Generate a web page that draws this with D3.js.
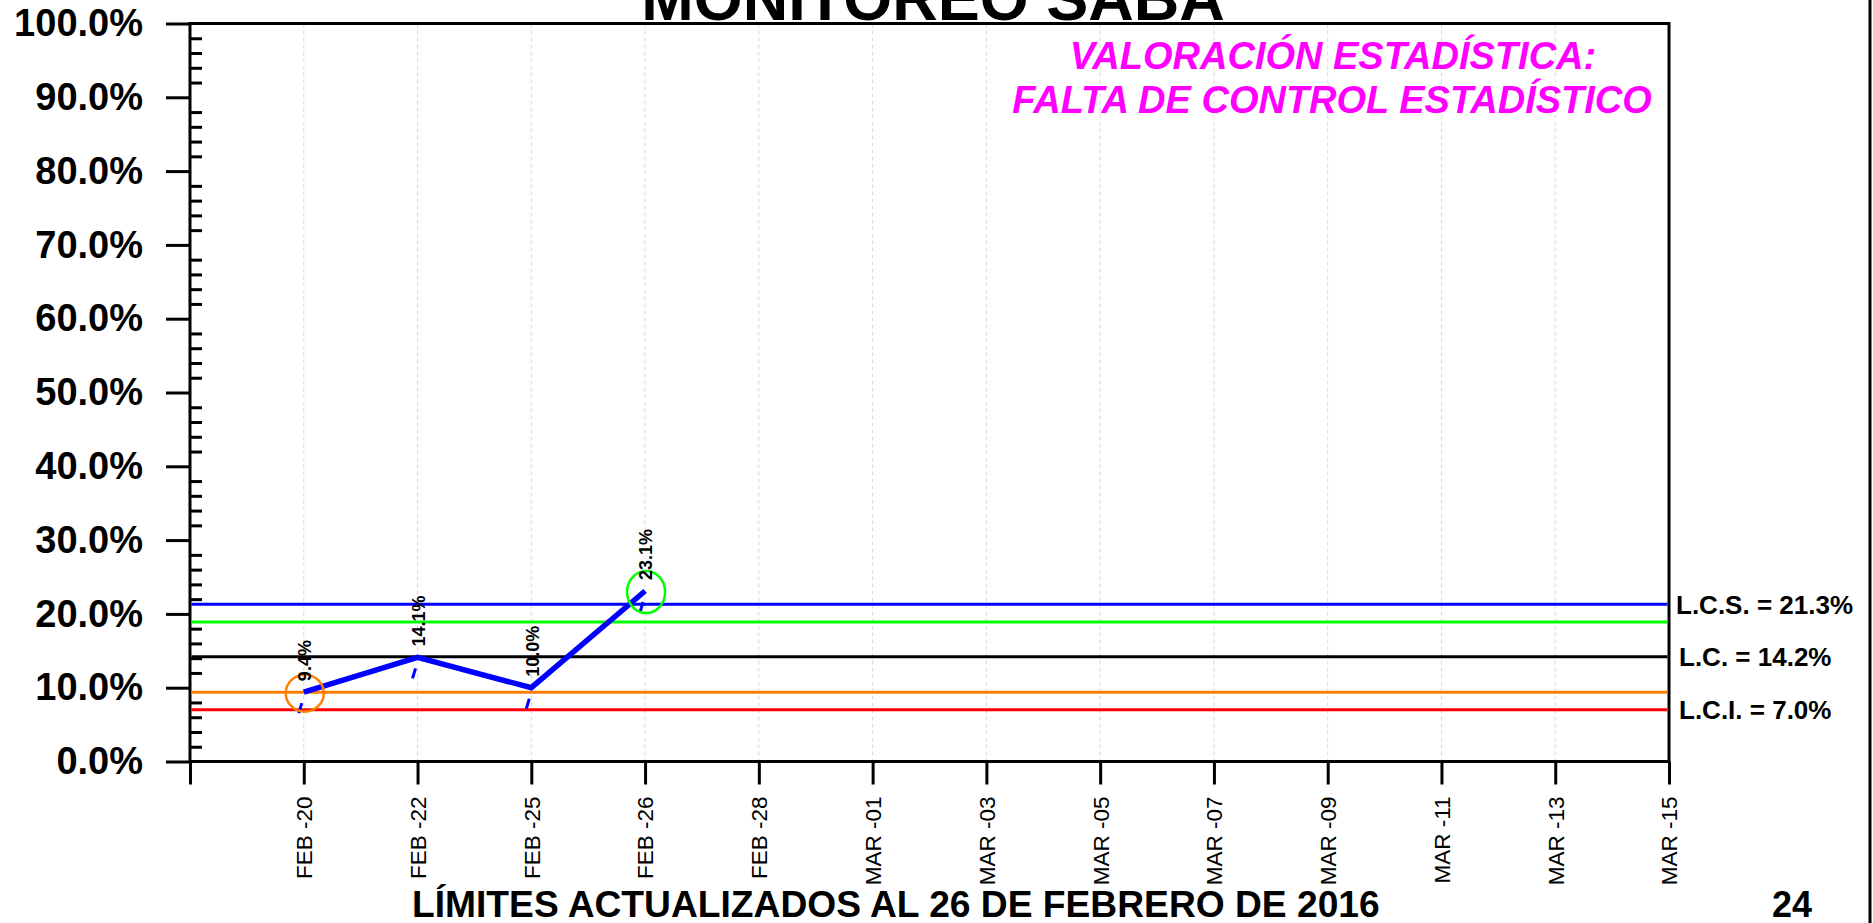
<!DOCTYPE html>
<html>
<head>
<meta charset="utf-8">
<script src="https://cdn.jsdelivr.net/npm/d3@7"></script>
<style>
  body { margin: 0; background: #fff; }
  svg { display: block; }
  text { font-family: "Liberation Sans", Arial, sans-serif; }
</style>
</head>
<body>
<div id="grafica"></div>
<script>
// fechas del eje x
const categorias = ["FEB -20", "FEB -22", "FEB -25", "FEB -26", "FEB -28", "MAR -01", "MAR -03",
                    "MAR -05", "MAR -07", "MAR -09", "MAR -11", "MAR -13", "MAR -15"];
// valores medidos (%)
const valores = [9.4, 14.1, 10.0, 23.1];
// limites de control (%)
const limiteNombres = ["LCS", "ADV_SUP", "LC", "ADV_INF", "LCI"];
const limiteValores = [21.3, 18.9, 14.2, 9.4, 7.0];
const limiteColores = ["#0000ff", "#00ff00", "#000000", "#ff8000", "#ff0000"];
const limiteEtiquetas = ["L.C.S. = 21.3%", "", "L.C. = 14.2%", "", "L.C.I. = 7.0%"];
// puntos marcados con circulo
const marcas = [{i: 0, color: "#ff8000"}, {i: 3, color: "#00ff00"}];
const ticksY = [0, 10, 20, 30, 40, 50, 60, 70, 80, 90, 100];

var margin = {top: 23.5, left: 190},
    width = 1669 - 190,
    height = 761.5 - 23.5;

var svg = d3.select("#grafica")
            .append("svg")
            .attr("width", 1873)
            .attr("height", 923);

var g = svg.append("g")
           .attr("transform", "translate(" + margin.left + "," + margin.top + ")");

var x = d3.scaleLinear()
          .domain([0, categorias.length])
          .range([0, width]);

var y = d3.scaleLinear()
          .domain([0, 100])
          .range([height, 0]);

// rejilla vertical
g.selectAll(".grid")
  .data(categorias)
  .enter()
  .append("line")
    .attr("x1", function(d, i) { return x(i + 1); })
    .attr("x2", function(d, i) { return x(i + 1); })
    .attr("y1", 0)
    .attr("y2", height)
    .attr("stroke", "#dadada")
    .attr("stroke-width", 1)
    .attr("stroke-dasharray", "4,3");

// eje y
var ejeY = g.append("g")
  .call(d3.axisLeft(y).tickValues(ticksY).tickSize(24).tickSizeOuter(0).tickPadding(23)
          .tickFormat(function(d) { return d.toFixed(1) + "%"; }));
ejeY.select(".domain").remove();
ejeY.selectAll("line").attr("stroke-width", 3);
ejeY.selectAll("text")
  .style("font-size", "38px")
  .style("font-weight", "bold")
  .attr("fill", "#000");

var menores = d3.range(2, 100, 2).filter(function(d) { return d % 10 != 0; });
var ejeYmenor = g.append("g")
  .call(d3.axisRight(y).tickValues(menores).tickSize(12).tickSizeOuter(0).tickFormat(""));
ejeYmenor.select(".domain").remove();
ejeYmenor.selectAll("line").attr("stroke-width", 3);

// eje x
var ejeX = g.append("g")
  .attr("transform", "translate(0," + height + ")")
  .call(d3.axisBottom(x).tickValues(d3.range(0, categorias.length + 1)).tickSize(23).tickSizeOuter(0)
          .tickFormat(function(i) { return i ? categorias[i - 1] : ""; }));
ejeX.select(".domain").remove();
ejeX.selectAll("line").attr("stroke-width", 3);
ejeX.selectAll("text")
  .attr("transform", "translate(0,35)rotate(-90)")
  .attr("x", 0)
  .attr("y", 0)
  .attr("dy", "0.35em")
  .style("text-anchor", "end")
  .style("font-size", "22.5px")
  .attr("fill", "#000");

// marco
g.append("rect")
  .attr("x", 0)
  .attr("y", 0)
  .attr("width", width)
  .attr("height", height)
  .attr("fill", "none")
  .attr("stroke", "#000")
  .attr("stroke-width", 3);

// limites
g.selectAll(".limite")
  .data(limiteValores)
  .enter()
  .append("line")
    .attr("x1", 1.5)
    .attr("x2", width - 1.5)
    .attr("y1", function(d) { return y(d); })
    .attr("y2", function(d) { return y(d); })
    .attr("stroke", function(d, i) { return limiteColores[i]; })
    .attr("stroke-width", 3);

g.selectAll(".limTxt")
  .data(limiteValores)
  .enter()
  .append("text")
    .attr("x", function(d, i) { return width + (i == 0 ? 7 : 10); })
    .attr("y", function(d) { return y(d); })
    .attr("dy", "0.36em")
    .style("font-size", "26px")
    .style("font-weight", "bold")
    .text(function(d, i) { return limiteEtiquetas[i]; });

// serie
var linea = d3.line()
  .x(function(d, i) { return x(i + 1); })
  .y(function(d) { return y(d); });

g.append("path")
  .datum(valores)
  .attr("d", linea)
  .attr("fill", "none")
  .attr("stroke", "#0000ff")
  .attr("stroke-width", 5.5)
  .attr("stroke-linejoin", "miter");

// pequeñas marcas bajo cada punto
g.selectAll(".tic")
  .data(valores)
  .enter()
  .append("line")
    .attr("x1", function(d, i) { return x(i + 1) - 5; })
    .attr("y1", function(d) { return y(d) + 21; })
    .attr("x2", function(d, i) { return x(i + 1) - 2; })
    .attr("y2", function(d) { return y(d) + 11; })
    .attr("stroke", "#0000ff")
    .attr("stroke-width", 3);

g.selectAll(".circ")
  .data(marcas)
  .enter()
  .append("ellipse")
    .attr("cx", function(d) { return x(d.i + 1) + 1; })
    .attr("cy", function(d) { return y(valores[d.i]) + 1; })
    .attr("rx", 19)
    .attr("ry", function(d) { return d.i == 0 ? 18.5 : 21; })
    .attr("fill", "none")
    .attr("stroke", function(d) { return d.color; })
    .attr("stroke-width", 2.5);

g.selectAll(".valTxt")
  .data(valores)
  .enter()
  .append("text")
    .attr("transform", function(d, i) {
      return "translate(" + (x(i + 1) + 1) + "," + (y(d) - 11) + ")rotate(-90)";
    })
    .attr("dy", "0.35em")
    .style("font-size", "18px")
    .style("font-weight", "bold")
    .text(function(d) { return d.toFixed(1) + "%"; });

// textos
svg.append("text")
  .attr("x", 933)
  .attr("y", 20)
  .attr("text-anchor", "middle")
  .style("font-size", "63px")
  .style("font-weight", "bold")
  .text("MONITOREO SABA");

svg.append("text")
  .attr("x", 1333)
  .attr("y", 69)
  .attr("text-anchor", "middle")
  .attr("fill", "#ff00ff")
  .style("font-size", "38px")
  .style("font-weight", "bold")
  .style("font-style", "italic")
  .text("VALORACIÓN ESTADÍSTICA:");

svg.append("text")
  .attr("x", 1332)
  .attr("y", 113)
  .attr("text-anchor", "middle")
  .attr("fill", "#ff00ff")
  .style("font-size", "38px")
  .style("font-weight", "bold")
  .style("font-style", "italic")
  .text("FALTA DE CONTROL ESTADÍSTICO");

svg.append("text")
  .attr("x", 412)
  .attr("y", 917)
  .style("font-size", "37.2px")
  .style("font-weight", "bold")
  .text("LÍMITES ACTUALIZADOS AL 26 DE FEBRERO DE 2016");

svg.append("text")
  .attr("x", 1792)
  .attr("y", 917)
  .attr("text-anchor", "middle")
  .style("font-size", "36px")
  .style("font-weight", "bold")
  .text("24");

svg.append("line")
  .attr("x1", 1870)
  .attr("x2", 1870)
  .attr("y1", 0)
  .attr("y2", 923)
  .attr("stroke", "#000")
  .attr("stroke-width", 3);
</script>
</body>
</html>
